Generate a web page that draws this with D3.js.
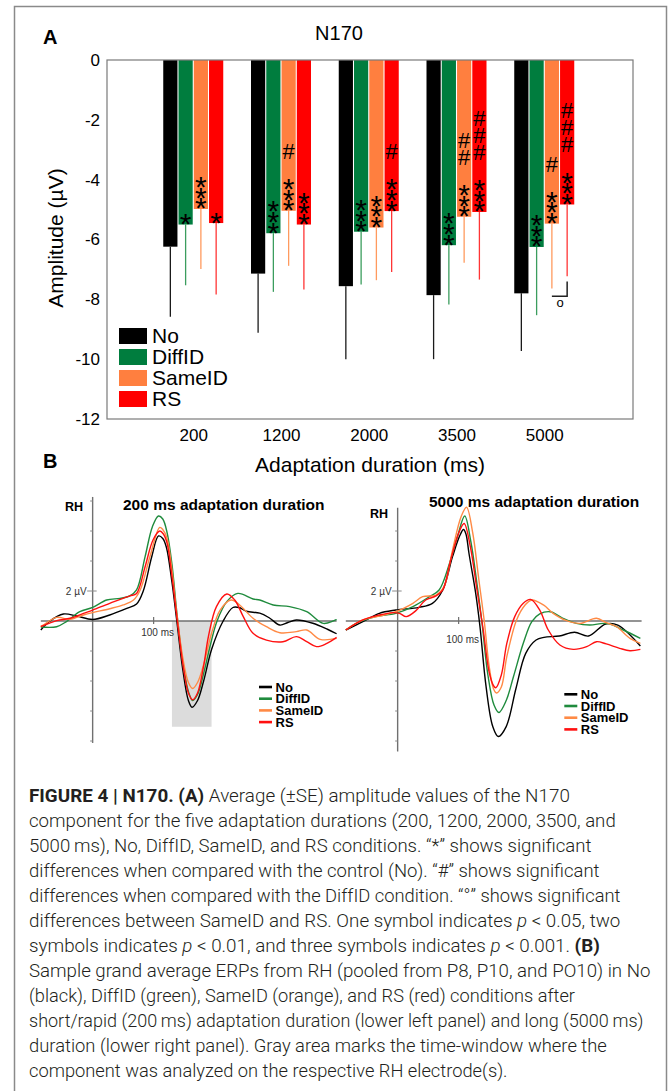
<!DOCTYPE html>
<html>
<head>
<meta charset="utf-8">
<script src="https://cdn.jsdelivr.net/npm/d3@7"></script>
<style>
  body { margin: 0; background: #fff; }
  svg { display: block; font-family: "Liberation Sans", Arial, sans-serif; }
</style>
</head>
<body>
<svg id="fig" width="672" height="1091"></svg>
<script>
// panel A: N170 amplitude per adaptation duration
var durations = ["200", "1200", "2000", "3500", "5000"]
var conditions = ["No", "DiffID", "SameID", "RS"]
var meanNo = [-6.24, -7.14, -7.56, -7.86, -7.80]
var meanDiff = [-5.50, -5.79, -5.74, -6.19, -6.25]
var meanSame = [-4.98, -5.04, -5.60, -5.24, -5.47]
var meanRS = [-5.45, -5.50, -5.05, -5.08, -4.83]
var seNo = [2.34, 1.98, 2.44, 2.14, 1.93]
var seDiff = [2.03, 1.96, 1.76, 1.98, 2.28]
var seSame = [2.01, 1.84, 1.76, 1.54, 2.17]
var seRS = [2.39, 2.17, 2.04, 2.26, 2.40]
// significance marks: * vs No, # vs DiffID
var starsDiff = [1, 3, 3, 3, 3]
var starsSame = [3, 3, 3, 3, 3]
var starsRS = [1, 3, 3, 3, 3]
var hashSame = [0, 1, 0, 2, 1]
var hashRS = [0, 0, 1, 3, 3]
var yTicks = [0, -2, -4, -6, -8, -10, -12]

// panel B: grand average ERPs, [ms, µV]
var erp200No = [[-85,-0.6],[-70,0.0],[-48,0.47],[-26,0.33],[0,0.1],[28,0.4],[56,0.84],[72,1.13],[83,2.0],[97,4.3],[108,5.67],[115,5.5],[121,4.9],[130,2.6],[138,0],[148,-3.3],[157,-5.3],[163,-5.75],[172,-5.3],[182,-4.0],[195,-1.9],[214,0],[230,0.9],[240,0.9],[252,0.65],[274,0.52],[290,0.2],[307,-0.27],[320,-0.1],[334,0.07],[361,-0.15],[385,-0.55],[400,-0.85]]
var erp200Diff = [[-85,-0.4],[-59,-0.38],[-43,-0.04],[-21,0.62],[0,0.91],[23,1.4],[45,1.51],[61,1.67],[72,2.07],[86,4.29],[98,6.29],[108,7.0],[115,6.8],[122,5.9],[130,3.8],[138,0.6],[148,-2.8],[157,-4.7],[164,-5.3],[172,-4.9],[182,-3.5],[193,-1.6],[204,0],[220,1.29],[238,1.84],[263,1.47],[274,1.4],[296,1.07],[323,0.96],[351,0.62],[378,-0.16],[400,0.11]]
var erp200Same = [[-85,-0.35],[-81,-0.27],[-59,0.24],[-37,0.11],[-15,0.4],[0,0.56],[28,0.82],[50,1.07],[67,1.4],[78,2.07],[94,4.3],[110,6.24],[115,6.1],[122,5.5],[130,3.4],[138,0.5],[148,-2.5],[157,-4.1],[164,-4.5],[172,-4.1],[182,-2.9],[195,-0.82],[209,0.73],[227,1.4],[241,1.07],[263,0.18],[285,-0.38],[307,-0.78],[334,-0.71],[351,-0.6],[373,-1.22],[400,-1.16]]
var erp200RS = [[-85,-0.38],[-59,0.02],[-37,0.18],[-15,0.51],[0,0.73],[28,1.18],[61,1.67],[72,1.84],[86,3.62],[99,5.4],[110,6.0],[116,5.8],[122,5.2],[130,3.0],[138,0.3],[148,-2.9],[157,-4.8],[164,-5.25],[172,-4.8],[182,-3.0],[190,-1.0],[203,0.96],[220,1.8],[233,1.4],[247,0.29],[263,-0.82],[285,-1.27],[312,-1.38],[334,-1.04],[351,-1.38],[367,-1.71],[384,-1.49],[400,-1.09]]
var erp5000No = [[-85,-0.6],[-57,-0.04],[-30,0.51],[-3,0.73],[35,0.91],[57,1.18],[74,2.07],[90,4.29],[102,5.7],[108,6.1],[112,5.8],[117,4.5],[128,1.84],[135,-0.38],[145,-4.38],[156,-7.04],[165,-7.7],[178,-7.04],[194,-4.5],[210,-2.16],[227,-1.27],[240,-1.09],[265,-1.0],[290,-0.75],[313,-1.0],[341,-0.2],[361,-0.27],[398,-1.67]]
var erp5000Diff = [[-85,-0.6],[-68,-0.16],[-36,0.29],[-3,0.51],[25,0.96],[52,1.62],[68,2.07],[85,3.84],[98,5.62],[110,7.0],[120,5.3],[130,2.5],[138,0],[148,-3.6],[158,-5.6],[166,-6.1],[178,-5.3],[190,-3.7],[206,-1.49],[220,-0.04],[233,0.47],[250,0.62],[271,0.18],[293,-0.16],[315,-0.27],[337,-0.16],[348,-0.2],[370,-0.6],[398,-1.16]]
var erp5000Same = [[-85,-0.6],[-57,0.07],[-30,0.33],[-3,0.62],[25,1.18],[41,1.62],[63,1.73],[76,2.29],[90,4.73],[104,6.95],[113,7.58],[123,5.9],[133,2.8],[142,0],[150,-3.0],[157,-4.5],[162,-4.8],[170,-4.4],[179,-2.38],[195,0.07],[209,1.07],[220,1.4],[239,1.07],[255,0.51],[277,0.02],[299,-0.16],[326,0.18],[342,-0.11],[359,-0.38],[381,-1.16],[398,-1.49]]
var erp5000RS = [[-85,-0.6],[-57,0.07],[-30,0.4],[-8,0.56],[3,0.51],[14,0.29],[30,0.69],[46,1.4],[63,1.67],[74,2.07],[87,4.07],[101,5.96],[109,6.5],[119,5.0],[130,2.1],[140,-0.5],[150,-3.4],[157,-4.3],[161,-4.45],[170,-3.6],[179,-1.49],[192,0.29],[206,1.18],[218,1.44],[233,0.73],[247,-0.6],[266,-1.6],[288,-1.89],[310,-1.71],[326,-1.38],[342,-1.53],[364,-1.82],[381,-1.98],[398,-1.89]]
var grayWindow = [130, 195]
var uvTicks = [-8, -6, -4, -2, 2, 4, 6, 8]

var barColor = {No: "#000000", DiffID: "#007d3e", SameID: "#ff7f3f", RS: "#ff0000"}
var errColor = {No: "#1a1a1a", DiffID: "#3b9d5e", SameID: "#ff9a5e", RS: "#ff3535"}
var lineColor = {No: "#000000", DiffID: "#1f8b3d", SameID: "#ff8a45", RS: "#ff1010"}

var svg = d3.select("#fig")
svg.append("rect").attr("width", 672).attr("height", 1091).attr("fill", "#fff")

svg.append("path")
    .attr("d", "M14.5,1091V6.5H666.5V1091")
    .attr("fill", "none").attr("stroke", "#8a8a8a").attr("stroke-width", 1.5)

function drawPanelA() {
    var means = {No: meanNo, DiffID: meanDiff, SameID: meanSame, RS: meanRS}
    var ses = {No: seNo, DiffID: seDiff, SameID: seSame, RS: seRS}
    var stars = {No: [0,0,0,0,0], DiffID: starsDiff, SameID: starsSame, RS: starsRS}
    var hashes = {No: [0,0,0,0,0], DiffID: [0,0,0,0,0], SameID: hashSame, RS: hashRS}

    var rows = []
    durations.forEach((d, i) => {
        conditions.forEach(c => {
            rows.push({dur: d, cond: c, mean: means[c][i], se: ses[c][i], stars: stars[c][i], hashes: hashes[c][i]})
        })
    })

    var x = d3.scalePoint().domain(durations).range([105.5, 632]).padding(1)
    var xSub = d3.scaleBand().domain(conditions).range([-30, 30]).paddingInner(0.07)
    var y = d3.scaleLinear().domain([-12, 0]).range([419, 60])

    var g = svg.append("g")

    g.append("text").attr("x", 43).attr("y", 43.5)
        .attr("font-size", 20).attr("font-weight", "bold").text("A")
    g.append("text").attr("x", 339).attr("y", 40)
        .attr("text-anchor", "middle").attr("font-size", 20).text("N170")

    // error bars first, bars on top
    g.selectAll(".err").data(rows).join("line")
        .attr("class", "err")
        .attr("x1", d => x(d.dur) + xSub(d.cond) + xSub.bandwidth()/2)
        .attr("x2", d => x(d.dur) + xSub(d.cond) + xSub.bandwidth()/2)
        .attr("y1", d => y(d.mean))
        .attr("y2", d => y(d.mean - d.se))
        .attr("stroke", d => errColor[d.cond])
        .attr("stroke-width", 1.3)

    g.selectAll(".bar").data(rows).join("rect")
        .attr("class", "bar")
        .attr("x", d => x(d.dur) + xSub(d.cond))
        .attr("width", xSub.bandwidth())
        .attr("y", y(0))
        .attr("height", d => y(d.mean) - y(0))
        .attr("fill", d => barColor[d.cond])

    // * and # stacked inside the bars, one text per bar
    var marked = rows.filter(d => d.stars + d.hashes > 0)
    var stack = g.selectAll(".mark").data(marked).join("text")
        .attr("class", "mark")
        .attr("text-anchor", "middle")
        .attr("fill", "#000")
    stack.each(function(d) {
        var cx = x(d.dur) + xSub(d.cond) + xSub.bandwidth()/2
        var yb = y(d.mean)
        var t = d3.select(this)
        for (var k = 0; k < d.stars; k++) {
            t.append("tspan").attr("x", cx).attr("y", yb - 7.5 - 10.7*k + 17)
                .attr("font-size", 30).text("*")
        }
        var top = yb - 7.5 - 10.7*(d.stars - 1)
        for (var k = 0; k < d.hashes; k++) {
            t.append("tspan").attr("x", cx).attr("y", top - 31 - 17*k + 7.8)
                .attr("font-size", 22).text("#")
        }
    })

    // SameID vs RS at 5000 ms
    var xs5 = x("5000")
    var xOr = xs5 + xSub("SameID") + xSub.bandwidth()/2
    var xRs = xs5 + xSub("RS") + xSub.bandwidth()/2
    g.append("path")
        .attr("d", `M${xOr},${y(-7.9)}H${xRs}V${y(-7.4)}`)
        .attr("fill", "none").attr("stroke", "#222").attr("stroke-width", 1.5)
    g.append("text").attr("x", (xOr + xRs)/2 + 0.5).attr("y", y(-7.9) + 11)
        .attr("text-anchor", "middle").attr("font-size", 13).text("o")

    g.append("rect")
        .attr("x", 107).attr("y", 60).attr("width", 526).attr("height", 359)
        .attr("fill", "none").attr("stroke", "#7a7a7a").attr("stroke-width", 1.2)

    var yAxis = g.append("g").attr("transform", "translate(107,0)")
        .call(d3.axisLeft(y).tickValues(yTicks).tickSize(0).tickPadding(7).tickFormat(d => String(d)))
    yAxis.select(".domain").remove()
    yAxis.selectAll("text").attr("font-size", 17).attr("font-family", null).attr("fill", "#000")

    var xAxis = g.append("g").attr("transform", "translate(0,419)")
        .call(d3.axisBottom(x).tickSize(0).tickPadding(10))
    xAxis.select(".domain").remove()
    xAxis.selectAll("text").attr("font-size", 17).attr("font-family", null).attr("fill", "#000")

    g.append("text").attr("transform", "translate(63,238) rotate(-90)")
        .attr("text-anchor", "middle").attr("font-size", 21).text("Amplitude (µV)")
    g.append("text").attr("x", 370).attr("y", 472)
        .attr("text-anchor", "middle").attr("font-size", 21).text("Adaptation duration (ms)")

    var leg = g.selectAll(".leg").data(conditions).join("g")
        .attr("class", "leg")
        .attr("transform", (d, j) => `translate(119,${328 + 21*j})`)
    leg.append("rect").attr("width", 28).attr("height", 16).attr("fill", d => barColor[d])
    leg.append("text").attr("x", 33).attr("y", 8).attr("dy", "0.35em")
        .attr("font-size", 21).text(d => d)
}

function drawErpPanel(p) {
    var xs = d3.scaleLinear().domain([-85, 400]).range(p.xRange)
    var ys = d3.scaleLinear().domain([0, 2]).range([621, 591])
    var g = svg.append("g")
    var x0 = xs(0)

    if (p.window) {
        g.append("rect")
            .attr("x", xs(p.window[0])).attr("width", xs(p.window[1]) - xs(p.window[0]))
            .attr("y", ys(0)).attr("height", ys(-7.05) - ys(0))
            .attr("fill", "#dcdcdc")
    }

    g.append("line").attr("x1", xs(-85)).attr("x2", xs(400))
        .attr("y1", ys(0)).attr("y2", ys(0))
        .attr("stroke", "#707070").attr("stroke-width", 1.4)
    g.append("line").attr("x1", x0).attr("x2", x0)
        .attr("y1", ys(p.uvRange[1])).attr("y2", ys(p.uvRange[0]))
        .attr("stroke", "#707070").attr("stroke-width", 1.4)

    g.selectAll(".uv").data(uvTicks.filter(v => v > p.uvRange[0] && v < p.uvRange[1])).join("line")
        .attr("class", "uv")
        .attr("x1", d => d == 2 ? x0 - 5.5 : x0 - 2.5).attr("x2", d => d == 2 ? x0 + 4 : x0)
        .attr("y1", d => ys(d)).attr("y2", d => ys(d))
        .attr("stroke", "#8a8a8a").attr("stroke-width", 1)
    g.append("text").attr("x", x0 - 6).attr("y", ys(2)).attr("dy", "0.35em")
        .attr("text-anchor", "end").attr("font-size", 10).attr("fill", "#333").text("2 µV")

    g.append("line").attr("x1", xs(100)).attr("x2", xs(100))
        .attr("y1", ys(0) - 4).attr("y2", ys(0) + 3)
        .attr("stroke", "#707070").attr("stroke-width", 1.2)
    g.append("text").attr("x", xs(100) + 4).attr("y", p.msLabelY).attr("dy", "0.35em")
        .attr("text-anchor", "middle").attr("font-size", 10).attr("fill", "#333").text("100 ms")

    var line = d3.line().x(d => xs(d[0])).y(d => ys(d[1])).curve(d3.curveCatmullRom.alpha(0.5))
    conditions.forEach(c => {
        g.append("path").datum(p.series[c])
            .attr("d", line)
            .attr("fill", "none").attr("stroke", lineColor[c]).attr("stroke-width", 1.4)
    })

    g.append("text").attr("x", p.rh[0]).attr("y", p.rh[1])
        .attr("font-size", 12.5).attr("font-weight", "bold").text("RH")
    g.append("text").attr("x", p.title[0]).attr("y", p.title[1])
        .attr("font-size", 15.5).attr("font-weight", "bold").text(p.label)

    var leg = g.selectAll(".leg").data(conditions).join("g")
        .attr("class", "leg")
        .attr("transform", (d, j) => `translate(${p.legend[0]},${p.legend[1] + 11.7*j})`)
    leg.append("line").attr("x1", 0).attr("x2", 13)
        .attr("stroke", d => lineColor[d]).attr("stroke-width", 2.6)
    leg.append("text").attr("x", 16.5).attr("dy", "0.36em")
        .attr("font-size", 13).attr("font-weight", "bold").text(d => d)
}

drawPanelA()

svg.append("text").attr("x", 43).attr("y", 467.5)
    .attr("font-size", 20).attr("font-weight", "bold").text("B")

drawErpPanel({
    xRange: [40.8, 336.6], uvRange: [-8.13, 8.27], window: grayWindow, msLabelY: 632.5,
    rh: [65, 511], title: [123, 510], label: "200 ms adaptation duration", legend: [259, 687],
    series: {No: erp200No, DiffID: erp200Diff, SameID: erp200Same, RS: erp200RS}
})
drawErpPanel({
    xRange: [345.8, 641.6], uvRange: [-8.7, 7.55], window: null, msLabelY: 639,
    rh: [370, 518.3], title: [429, 507], label: "5000 ms adaptation duration", legend: [564.3, 694.3],
    series: {No: erp5000No, DiffID: erp5000Diff, SameID: erp5000Same, RS: erp5000RS}
})

// caption, each line squeezed to the width it has in the figure
var caption = [
    [["FIGURE 4 | N170. (A)", "b"], [" Average (±SE) amplitude values of the N170"]],
    [["component for the five adaptation durations (200, 1200, 2000, 3500, and"]],
    [["5000\u2009ms), No, DiffID, SameID, and RS conditions. “*” shows significant"]],
    [["differences when compared with the control (No). “#” shows significant"]],
    [["differences when compared with the DiffID condition. “°” shows significant"]],
    [["differences between SameID and RS. One symbol indicates "], ["p", "i"], [" < 0.05, two"]],
    [["symbols indicates "], ["p", "i"], [" < 0.01, and three symbols indicates "], ["p", "i"], [" < 0.001. "], ["(B)", "b"]],
    [["Sample grand average ERPs from RH (pooled from P8, P10, and PO10) in No"]],
    [["(black), DiffID (green), SameID (orange), and RS (red) conditions after"]],
    [["short/rapid (200\u2009ms) adaptation duration (lower left panel) and long (5000\u2009ms)"]],
    [["duration (lower right panel). Gray area marks the time-window where the"]],
    [["component was analyzed on the respective RH electrode(s)."]]
]
var captionWidths = [541, 587, 563, 571, 592, 592, 571, 622, 546, 615, 578, 479]

caption.forEach((segs, i) => {
    var t = svg.append("text")
        .attr("font-family", "Roboto, 'Liberation Sans', sans-serif")
        .attr("font-weight", 300)
        .attr("font-size", 17.5).attr("fill", "#231f20")
    segs.forEach(s => {
        t.append("tspan")
            .attr("font-weight", s[1] == "b" ? "bold" : null)
            .attr("font-style", s[1] == "i" ? "italic" : null)
            .text(s[0])
    })
    var w = t.node().getComputedTextLength()
    t.attr("transform", `translate(29,${801.5 + 25*i}) scale(${captionWidths[i]/w},1)`)
})
</script>
</body>
</html>
